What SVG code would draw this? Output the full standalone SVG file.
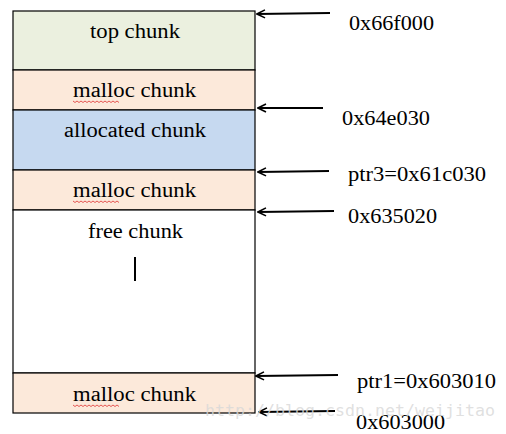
<svg xmlns="http://www.w3.org/2000/svg" width="506" height="434" viewBox="0 0 506 434">
<defs>
<style>
.box{stroke:#000;stroke-width:1.2}
text.t,text.lbl{font-family:'Liberation Serif','Tinos','Noto Serif','DejaVu Serif','FreeSerif','Times New Roman',Times,serif;font-size:20px;fill:#000}
.conn{stroke:#000;stroke-width:2;fill:none}
.sq{stroke:#e03030;stroke-width:0.8;fill:none}
</style>
<marker id="ah" viewBox="0 0 10 10" refX="9" refY="5" markerWidth="5" markerHeight="5" orient="auto" markerUnits="strokeWidth">
<path d="M1,1 L9,5 L1,9" fill="none" stroke="#000" stroke-width="1.6"/>
</marker>
</defs>
<rect width="506" height="434" fill="#fff"/>
<g id="top-chunk"><rect class="box" x="13" y="11" width="242" height="59" fill="#EBF0DF"/><text class="t" x="90" y="38" textLength="90" lengthAdjust="spacingAndGlyphs">top chunk</text></g>
<g id="malloc-chunk-1"><rect class="box" x="13" y="70" width="242" height="40" fill="#FCE9DA"/><text class="t" x="73" y="97" textLength="123" lengthAdjust="spacingAndGlyphs">malloc chunk</text><path class="sq" d="M73,101 l2,1.5 l2,-1.5 l2,1.5 l2,-1.5 l2,1.5 l2,-1.5 l2,1.5 l2,-1.5 l2,1.5 l2,-1.5 l2,1.5 l2,-1.5 l2,1.5 l2,-1.5 l2,1.5 l2,-1.5 l2,1.5 l2,-1.5 l2,1.5 l2,-1.5 l2,1.5 l2,-1.5 l2,1.5"/></g>
<g id="allocated-chunk"><rect class="box" x="13" y="110" width="242" height="60" fill="#C6D9F0"/><text class="t" x="64" y="137" textLength="142" lengthAdjust="spacingAndGlyphs">allocated chunk</text></g>
<g id="malloc-chunk-2"><rect class="box" x="13" y="170" width="242" height="40" fill="#FCE9DA"/><text class="t" x="73" y="197" textLength="123" lengthAdjust="spacingAndGlyphs">malloc chunk</text><path class="sq" d="M73,201 l2,1.5 l2,-1.5 l2,1.5 l2,-1.5 l2,1.5 l2,-1.5 l2,1.5 l2,-1.5 l2,1.5 l2,-1.5 l2,1.5 l2,-1.5 l2,1.5 l2,-1.5 l2,1.5 l2,-1.5 l2,1.5 l2,-1.5 l2,1.5 l2,-1.5 l2,1.5 l2,-1.5 l2,1.5"/></g>
<g id="free-chunk"><rect class="box" x="13" y="210" width="242" height="163" fill="#fff"/><text class="t" x="88" y="238" textLength="95" lengthAdjust="spacingAndGlyphs">free chunk</text><line x1="135" y1="257" x2="135" y2="281" stroke="#000" stroke-width="2"/></g>
<g id="malloc-chunk-3"><rect class="box" x="13" y="373" width="242" height="40" fill="#FCE9DA"/><text class="t" x="73" y="401" textLength="123" lengthAdjust="spacingAndGlyphs">malloc chunk</text><path class="sq" d="M73,405 l2,1.5 l2,-1.5 l2,1.5 l2,-1.5 l2,1.5 l2,-1.5 l2,1.5 l2,-1.5 l2,1.5 l2,-1.5 l2,1.5 l2,-1.5 l2,1.5 l2,-1.5 l2,1.5 l2,-1.5 l2,1.5 l2,-1.5 l2,1.5 l2,-1.5 l2,1.5 l2,-1.5 l2,1.5"/></g>
<g id="connectors">
<line class="conn" x1="330" y1="13" x2="257" y2="14" marker-end="url(#ah)"/>
<line class="conn" x1="323" y1="108" x2="258" y2="108" marker-end="url(#ah)"/>
<line class="conn" x1="329" y1="171" x2="258" y2="172" marker-end="url(#ah)"/>
<line class="conn" x1="334" y1="211" x2="258" y2="212" marker-end="url(#ah)"/>
<line class="conn" x1="338" y1="375" x2="256" y2="376" marker-end="url(#ah)"/>
<line class="conn" x1="335" y1="411" x2="259" y2="412" marker-end="url(#ah)"/>
</g>
<g id="labels">
<text class="lbl" x="349" y="30" textLength="85" lengthAdjust="spacingAndGlyphs">0x66f000</text>
<text class="lbl" x="342" y="125" textLength="88" lengthAdjust="spacingAndGlyphs">0x64e030</text>
<text class="lbl" x="348" y="181" textLength="138" lengthAdjust="spacingAndGlyphs">ptr3=0x61c030</text>
<text class="lbl" x="348" y="223" textLength="89" lengthAdjust="spacingAndGlyphs">0x635020</text>
<text class="lbl" x="357" y="388" textLength="139" lengthAdjust="spacingAndGlyphs">ptr1=0x603010</text>
<text class="lbl" x="356" y="429" textLength="89" lengthAdjust="spacingAndGlyphs">0x603000</text>
</g>
<text x="205" y="416" font-family="'DejaVu Sans Mono','Liberation Mono',monospace" font-size="16" fill="#d8d8d8" fill-opacity="0.8" textLength="290" lengthAdjust="spacingAndGlyphs">http://blog.csdn.net/weijitao</text>
</svg>
